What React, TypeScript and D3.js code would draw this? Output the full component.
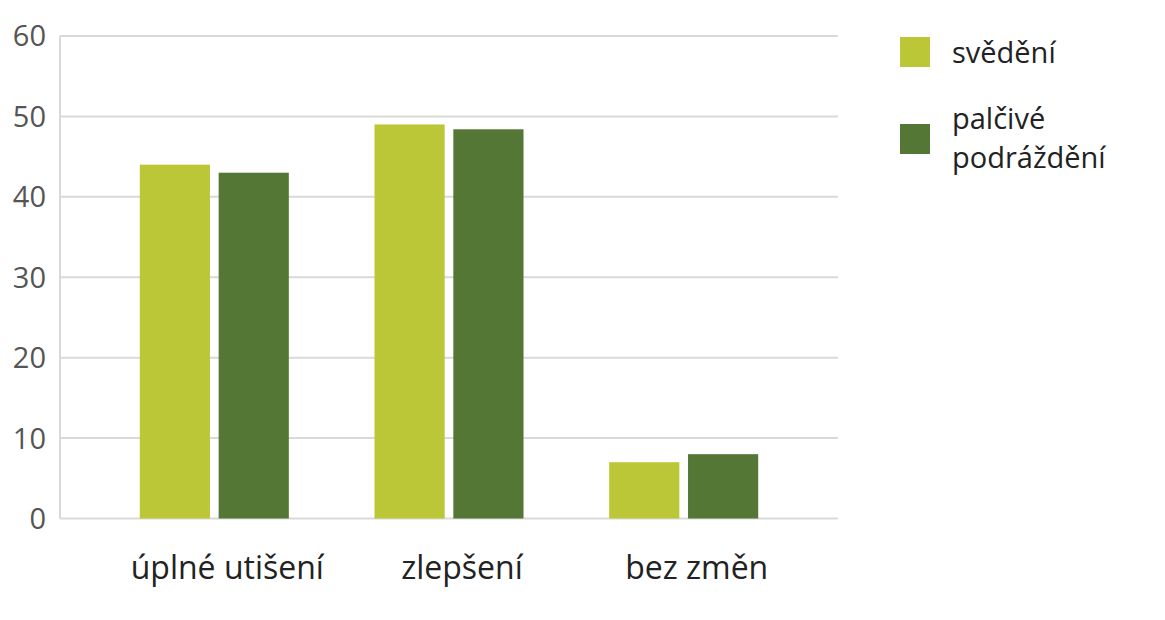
import React from "react";
import * as d3 from "d3";

const categories = ["úplné utišení", "zlepšení", "bez změn"];
const seriesNames = ["svědění", "palčivé podráždění"];
const svedeni = [44, 49, 7];
const palcive = [43, 48.4, 8];
const yTicks = [0, 10, 20, 30, 40, 50, 60];
const colors = ["#bbc737", "#557735"];

const W = 1165;
const H = 620;
const left = 60;
const right = 838;
const top = 36;
const bottom = 518.5;
const font = "'Open Sans', sans-serif";

export default function App() {
  const x0 = d3
    .scaleBand<string>()
    .domain(categories)
    .range([left, right])
    .paddingInner(0.365)
    .paddingOuter(0.34);
  const x1 = d3
    .scaleBand<string>()
    .domain(seriesNames)
    .range([0, x0.bandwidth()])
    .paddingInner(0.11);
  const y = d3.scaleLinear().domain([0, 60]).range([bottom, top]);
  const series = [svedeni, palcive];

  return (
    <svg
      width={W}
      height={H}
      style={{ position: "absolute", left: 0, top: 0, background: "#fff" }}
    >
      {yTicks.map((t) => (
        <g key={t}>
          <line
            x1={left}
            x2={right}
            y1={y(t)}
            y2={y(t)}
            stroke="#d9d9d9"
            strokeWidth={2}
          />
          <text
            x={46}
            y={y(t)}
            dy="0.36em"
            textAnchor="end"
            fontFamily={font}
            fontSize={29}
            fill="#555"
          >
            {t}
          </text>
        </g>
      ))}
      <line x1={left} x2={left} y1={top} y2={bottom} stroke="#d9d9d9" strokeWidth={2} />
      {categories.map((c, i) => (
        <g key={c} transform={`translate(${x0(c)},0)`}>
          {seriesNames.map((s, j) => (
            <rect
              key={s}
              x={x1(s)}
              y={y(series[j][i])}
              width={x1.bandwidth()}
              height={bottom - y(series[j][i])}
              fill={colors[j]}
            />
          ))}
          <text
            x={x0.bandwidth() / 2 + 13}
            y={579}
            textAnchor="middle"
            fontFamily={font}
            fontSize={32}
            fill="#222"
          >
            {c}
          </text>
        </g>
      ))}
      <g>
        <rect x={900} y={37} width={30} height={30} fill={colors[0]} />
        <text x={952} y={63} fontFamily={font} fontSize={29} fill="#222">
          svědění
        </text>
        <rect x={900} y={124} width={30} height={30} fill={colors[1]} />
        <text x={952} y={129} fontFamily={font} fontSize={29} fill="#222">
          palčivé
        </text>
        <text x={952} y={168} fontFamily={font} fontSize={29} fill="#222">
          podráždění
        </text>
      </g>
    </svg>
  );
}
